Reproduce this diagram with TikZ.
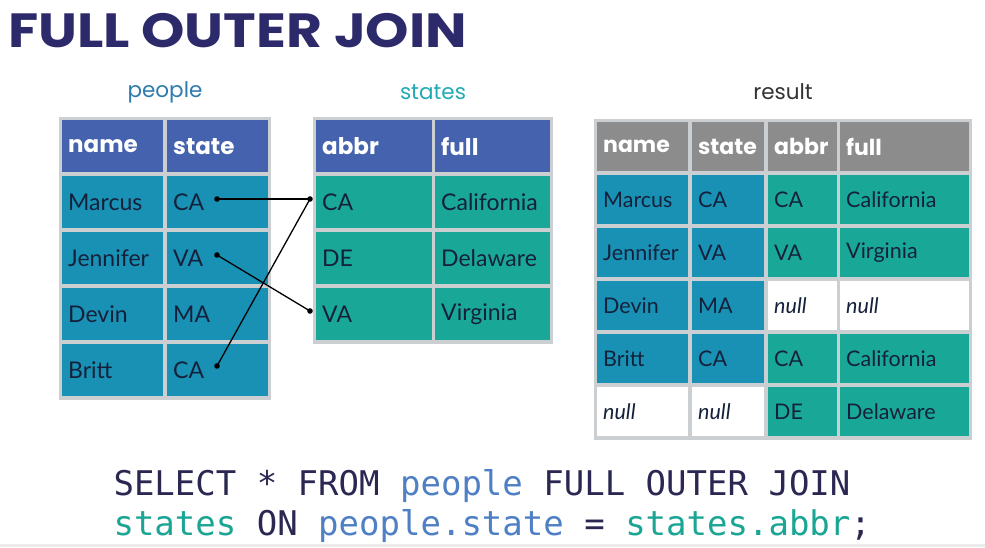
\documentclass[tikz,border=0pt]{standalone}
\usepackage{fontspec}
\setmainfont{Lato}
\newfontfamily\titlefont{Poppins}
\setmonofont{DejaVu Sans Mono}
\usetikzlibrary{positioning}

\definecolor{hdblue}{HTML}{4462AE}
\definecolor{cellblue}{HTML}{1891B5}
\definecolor{cellteal}{HTML}{19A897}
\definecolor{hdgray}{HTML}{8C8C8C}
\definecolor{tblgray}{HTML}{CBCFD2}
\definecolor{txt}{HTML}{15213A}
\definecolor{titlecol}{HTML}{2D2A6B}
\definecolor{lblpeople}{HTML}{2E7BAE}
\definecolor{lblstates}{HTML}{22AAB5}
\definecolor{sqlkey}{HTML}{2A2852}
\definecolor{sqlpeople}{HTML}{4F7FC4}
\definecolor{sqlstates}{HTML}{1AA594}

\begin{document}
\begin{tikzpicture}[x=1pt,y=-1pt,>=stealth]
    \tikzstyle{every node}=[text=txt]
    \tikzstyle{cell}=[anchor=north west,inner xsep=6pt,inner ysep=0pt,align=left,font=\fontsize{23}{26}\selectfont]
    \tikzstyle{head}=[cell,fill=hdblue,text=white,minimum height=52pt,font=\titlefont\bfseries\fontsize{23}{26}\selectfont]
    \tikzstyle{pcell}=[cell,fill=cellblue,minimum height=52pt]
    \tikzstyle{scell}=[cell,fill=cellteal,minimum height=52pt]
    \tikzstyle{rcell}=[cell,minimum height=49pt,font=\fontsize{21.5}{24}\selectfont]
    \tikzstyle{rhead}=[rcell,fill=hdgray,text=white,font=\titlefont\bfseries\fontsize{22}{24}\selectfont]
    \tikzstyle{rblue}=[rcell,fill=cellblue]
    \tikzstyle{rteal}=[rcell,fill=cellteal]
    \tikzstyle{rnull}=[rcell,fill=white,font=\itshape\fontsize{21.5}{24}\selectfont]
    \tikzstyle{lbl}=[font=\titlefont\fontsize{21.5}{24}\selectfont]
    \tikzstyle{dot}=[fill=black]

    \useasboundingbox (0,0) rectangle (985,547);
    \fill[white] (0,0) rectangle (985,547);
    \fill[black!8] (0,544) rectangle (985,547);

    % title
    \node[anchor=base west,xscale=1.15,text=titlecol,font=\titlefont\bfseries\fontsize{48}{50}\selectfont] (title) at (4,47) {FULL OUTER JOIN};

    % labels
    \node[lbl,text=lblpeople] (lpeople) at (165,92) {people};
    \node[lbl,text=lblstates] (lstates) at (433,92) {states};
    \node[lbl,text=black!80] (lresult) at (783,92) {result};

    % people
    \fill[tblgray] (59,117) rectangle (271,400);
    \node[head,text width=89pt] (pname) at (62,120) {name};
    \node[head,text width=89pt] (pstate) at (167,120) {state};
    \foreach \n/\s [count=\i] in {Marcus/CA,Jennifer/VA,Devin/MA,Britt/CA}
        {
            \node[pcell,text width=89pt] (pn\i) at (62,120+56*\i) {\n};
            \node[pcell,text width=89pt] (ps\i) at (167,120+56*\i) {\s};
        }

    % states
    \fill[tblgray] (313,117) rectangle (553,344);
    \node[head,text width=104pt] (sabbr) at (316,120) {abbr};
    \node[head,text width=103pt] (sfull) at (435,120) {full};
    \foreach \a/\f [count=\i] in {CA/California,DE/Delaware,VA/Virginia}
        {
            \node[scell,text width=104pt] (sa\i) at (316,120+56*\i) {\a};
            \node[scell,text width=103pt] (sf\i) at (435,120+56*\i) {\f};
        }

    % result
    \fill[tblgray] (594,119) rectangle (972,440);
    \node[rhead,text width=79pt] (rname) at (597,122) {name};
    \node[rhead,text width=60pt] (rstate) at (692,122) {state};
    \node[rhead,text width=57pt] (rabbr) at (768,122) {abbr};
    \node[rhead,text width=117pt] (rfull) at (840,122) {full};
    \foreach \a/\b/\c/\d/\l/\r [count=\i] in {Marcus/CA/CA/California/rblue/rteal,
        Jennifer/VA/VA/Virginia/rblue/rteal,Devin/MA/null/null/rblue/rnull,
        Britt/CA/CA/California/rblue/rteal,null/null/DE/Delaware/rnull/rteal}
        {
            \node[\l,text width=79pt] (ra\i) at (597,122+53*\i) {\a};
            \node[\l,text width=60pt] (rb\i) at (692,122+53*\i) {\b};
            \node[\r,text width=57pt] (rc\i) at (768,122+53*\i) {\c};
            \node[\r,text width=117pt] (rd\i) at (840,122+53*\i) {\d};
        }

    % join lines
    \coordinate (ca1) at (217,199);
    \coordinate (va2) at (217,255);
    \coordinate (ca4) at (217,366);
    \coordinate (sca) at (310,199);
    \coordinate (sva) at (310,311);
    \draw[line width=1.3pt] (ca1)--(sca);
    \draw[line width=1.3pt] (va2)--(sva);
    \draw[line width=1.3pt] (ca4)--(sca);
    \foreach \p in {ca1,va2,ca4,sca,sva}
        \fill[dot] (\p) circle [radius=2.8pt];

    % query
    \node[anchor=base west,text=sqlkey,font=\ttfamily\fontsize{34}{40}\selectfont] (sql1) at (110,495)
        {SELECT * FROM \textcolor{sqlpeople}{people} FULL OUTER JOIN};
    \node[anchor=base west,text=sqlkey,font=\ttfamily\fontsize{34}{40}\selectfont] (sql2) at (110,535)
        {\textcolor{sqlstates}{states} ON \textcolor{sqlpeople}{people.state} = \textcolor{sqlstates}{states.abbr};};
\end{tikzpicture}
\end{document}
